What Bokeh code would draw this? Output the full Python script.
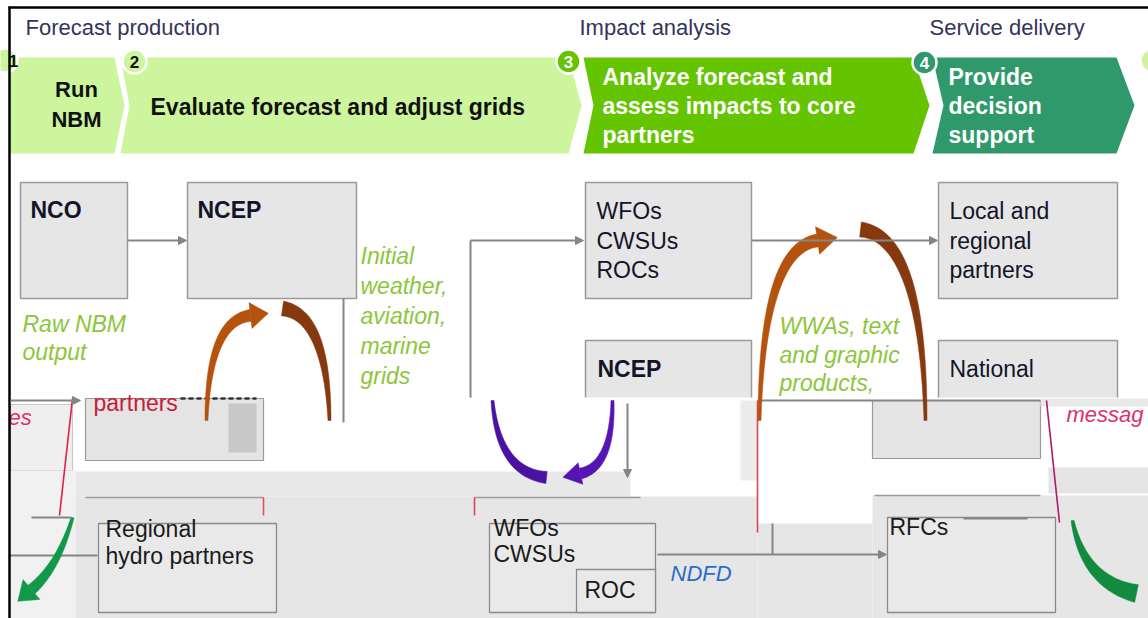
import numpy as np
from bokeh.plotting import figure
from bokeh.models import Range1d, Arrow, NormalHead
from bokeh.core.properties import value
from bokeh.embed import file_html
from bokeh.resources import INLINE

FONT = "Liberation Sans"

# ---------------- phase headers ----------------
phase_titles = ["Forecast production", "Impact analysis", "Service delivery"]
phase_x = [25, 579, 929]
phase_y = [27, 27, 27]

# ---------------- chevrons ----------------
chev_left = [8, 120, 583, 932]
chev_right = [114, 568, 913, 1116]
chev_notch = [0, 9, 10, 11]
chev_point = [10, 13, 16, 18]
chev_colors = ["#cdf59e", "#cdf59e", "#64c400", "#2f996b"]
chev_top, chev_bottom = 57, 153

run_text = ["Run", "NBM"]
run_tx = [76, 76]
run_ty = [89, 119]

chev_text = ["Evaluate forecast and adjust grids",
             "Analyze forecast and", "assess impacts to core", "partners",
             "Provide", "decision", "support"]
chev_tx = [150, 602, 602, 602, 948, 948, 948]
chev_ty = [106, 76, 105, 134, 76, 105, 134]
chev_tc = ["#111111"] + ["#ffffff"] * 6

step_num = ["1", "2", "3", "4"]
step_x = [5, 134, 568, 924]
step_y = [60, 61, 61, 62]
step_tx = [13, 134, 568, 924]
step_fill = ["#cdf59e", "#cdf59e", "#64c400", "#2f996b"]
step_tc = ["#111111", "#111111", "#ffffff", "#ffffff"]

# ---------------- boxes (upper, clean part) ----------------
box_l = [20, 187, 585, 938, 585, 938]
box_t = [182, 182, 182, 182, 340, 340]
box_r = [127, 356, 751, 1117, 751, 1117]
box_b = [298, 298, 298, 298, 410, 410]

box_text = ["NCO", "NCEP", "WFOs", "CWSUs", "ROCs", "Local and", "regional",
            "partners", "NCEP", "National"]
box_tx = [30, 197, 596, 596, 596, 949, 949, 949, 597, 949]
box_ty = [209, 209, 210, 240, 269, 210, 240, 269, 368, 368]
box_ts = ["bold", "bold", "normal", "normal", "normal", "normal", "normal",
          "normal", "bold", "normal"]

green_text = ["Raw NBM", "output", "Initial", "weather,", "aviation,", "marine",
              "grids", "WWAs, text", "and graphic", "products,"]
green_tx = [22, 22, 360, 360, 360, 360, 360, 779, 779, 779]
green_ty = [323, 351, 255, 285, 315, 345, 375, 325, 354, 382]

# straight connectors with arrow heads
arr_x0 = [127, 470, 751, 10, 627, 657]
arr_y0 = [240, 240, 240, 400, 403, 554]
arr_x1 = [186, 583, 937, 80, 627, 886]
arr_y1 = [240, 240, 240, 400, 477, 554]

# plain connector lines
ln_x0 = [343, 470, 8, 772, 757, 963, 31]
ln_y0 = [298, 240, 555, 523, 400, 518, 517]
ln_x1 = [343, 470, 97, 772, 1040, 1027, 70]
ln_y1 = [422, 397, 555, 554, 400, 518, 517]

# thin coloured glitch lines
cl_x0 = [72, 1046, 757, 263, 474]
cl_y0 = [398, 400, 400, 497, 497]
cl_x1 = [59, 1059, 757, 263, 474]
cl_y1 = [515, 522, 532, 515, 515]
cl_col = ["#e0204a", "#b0186a", "#d84858", "#e05060", "#d84858"]

# ---------------- lower (distorted) part ----------------
patch_l = [8, 10, 85, 228, 75, 10, 75, 757, 872, 872, 1048, 740, 1040]
patch_t = [397, 404, 398, 403, 471, 470, 496, 523, 495, 400, 467, 400, 398]
patch_r = [1148, 72, 263, 256, 630, 75, 757, 872, 1148, 1040, 1148, 757, 1148]
patch_b = [618, 470, 460, 452, 496, 618, 618, 618, 618, 458, 493, 480, 406]
patch_c = ["#ffffff", "#efefef", "#e4e4e4", "#c8c8c8", "#e8e8e8", "#f1f1f1",
           "#e6e6e6", "#e6e6e6", "#e6e6e6", "#e4e4e4", "#e4e4e4", "#ececec",
           "#e9e9e9"]
patch_line = [None, "#c8c8c8", "#9a9a9a", None, None, None, None, None, None,
              "#9a9a9a", None, None, None]

low_l = [98, 489, 576, 887]
low_t = [523, 523, 569, 517]
low_r = [276, 655, 655, 1055]
low_b = [612, 612, 612, 612]

edge_x0 = [85, 474, 874]
edge_x1 = [263, 640, 1040]
edge_y = [497, 497, 495]

low_text = ["Regional", "hydro partners", "WFOs", "CWSUs", "ROC", "RFCs"]
low_tx = [105, 105, 493, 493, 584, 889]
low_ty = [528, 555, 527, 553, 589, 526]

pink_text = ["es", "messag"]
pink_tx = [8, 1066]
pink_ty = [417, 414]

# ---------------- curved thick arrows ----------------
# (start, control, end, start width, end width, head length, head width, colour)
curves = [
    ((206, 420), (208, 320), (250, 315), 3, 12, 18, 26, "#b4520e"),
    ((329, 420), (326, 314), (282, 308), 3, 15, 0, 0, "#86390f"),
    ((759, 420), (762, 248), (817, 240), 3, 13, 20, 28, "#b4520e"),
    ((925, 420), (922, 236), (860, 229), 3, 15, 0, 0, "#86390f"),
    ((492, 400), (498, 472), (546, 477), 3, 12, 0, 0, "#4a12a0"),
    ((612, 400), (612, 466), (580, 473), 3, 11, 18, 22, "#5614b4"),
    ((72, 517), (58, 566), (31, 589), 3, 11, 18, 26, "#12984a"),
    ((1072, 520), (1084, 582), (1136, 593), 3, 18, 0, 0, "#128a40"),
]


def tapered(p0, p1, p2, w0, w1, hl, hw, n=40):
    p0, p1, p2 = np.array(p0, float), np.array(p1, float), np.array(p2, float)
    t = np.linspace(0, 1, n)[:, None]
    pts = (1 - t) ** 2 * p0 + 2 * (1 - t) * t * p1 + t ** 2 * p2
    d = 2 * (1 - t) * (p1 - p0) + 2 * t * (p2 - p1)
    d = d / np.linalg.norm(d, axis=1)[:, None]
    nrm = np.column_stack([-d[:, 1], d[:, 0]])
    w = (w0 + (w1 - w0) * t) / 2
    a = pts + nrm * w
    b = pts - nrm * w
    poly = np.vstack([a, b[::-1]])
    head = None
    if hl > 0:
        e, de, ne = pts[-1], d[-1], nrm[-1]
        tip = e + de * hl
        head = np.vstack([e + ne * hw / 2, tip, e - ne * hw / 2])
    return poly, head


p = figure(width=1148, height=618, output_backend="svg", toolbar_location=None,
           x_range=Range1d(0, 1148), y_range=Range1d(618, 0),
           x_axis_location=None, y_axis_location=None, min_border=0,
           outline_line_color=None, background_fill_color="white")
p.xgrid.visible = False
p.ygrid.visible = False

# chevrons
cxs, cys = [], []
for l, r, nt, pt in zip(chev_left, chev_right, chev_notch, chev_point):
    cxs.append([l, r, r + pt, r, l, l + nt])
    cys.append([chev_top, chev_top, (chev_top + chev_bottom) / 2, chev_bottom,
                chev_bottom, (chev_top + chev_bottom) / 2])
p.patches(cxs, cys, fill_color=chev_colors, line_color=None)

# fifth step marker peeking in at the right edge
p.circle([1152], [60], radius=12, fill_color="#cdf59e", line_color="white",
         line_width=2.5)

p.circle(step_x, step_y, radius=12, fill_color=step_fill, line_color="white",
         line_width=2.5)
p.text(step_tx, step_y, text=step_num, text_color=step_tc, text_font=value(FONT),
       text_font_style="bold", text_font_size="17px", text_align="center",
       text_baseline="middle")

p.text(phase_x, phase_y, text=phase_titles, text_color="#34345a",
       text_font=value(FONT), text_font_size="22px", text_baseline="middle")

p.text(run_tx, run_ty, text=run_text, text_color="#111111",
       text_font=value(FONT), text_font_style="bold", text_font_size="22px",
       text_align="center", text_baseline="middle")
p.text(chev_tx, chev_ty, text=chev_text, text_color=chev_tc,
       text_font=value(FONT), text_font_style="bold", text_font_size="23px",
       text_baseline="middle")

# upper boxes
p.quad(left=box_l, right=box_r, top=box_t, bottom=box_b, fill_color="#e6e6e6",
       line_color="#9a9a9a", line_width=1.5)

# lower distorted region
for l, t, r, b, c, lc in zip(patch_l, patch_t, patch_r, patch_b, patch_c, patch_line):
    p.quad(left=[l], right=[r], top=[t], bottom=[b], fill_color=c,
           line_color=lc, line_width=1.2)
p.quad(left=low_l, right=low_r, top=low_t, bottom=low_b, fill_color="#e9e9e9",
       line_color="#8a8a8a", line_width=1.3)
p.segment(x0=edge_x0, y0=edge_y, x1=edge_x1, y1=edge_y, line_color="#9a9a9a",
          line_width=1.5)

# connectors
p.segment(x0=ln_x0, y0=ln_y0, x1=ln_x1, y1=ln_y1, line_color="#858585",
          line_width=2)
p.segment(x0=cl_x0, y0=cl_y0, x1=cl_x1, y1=cl_y1, line_color=cl_col,
          line_width=1.6)
p.segment(x0=[180], y0=[398], x1=[256], y1=[398], line_color="#333333",
          line_width=2.5, line_dash="5 3")
for x0, y0, x1, y1 in zip(arr_x0, arr_y0, arr_x1, arr_y1):
    p.add_layout(Arrow(x_start=x0, y_start=y0, x_end=x1, y_end=y1,
                       line_color="#858585", line_width=2,
                       end=NormalHead(size=8, fill_color="#858585",
                                      line_color="#858585")))

# curved arrows
bxs, bys, bc, hxs, hys, hc = [], [], [], [], [], []
for p0, p1, p2, w0, w1, hl, hw, col in curves:
    poly, head = tapered(p0, p1, p2, w0, w1, hl, hw)
    bxs.append(list(poly[:, 0])); bys.append(list(poly[:, 1])); bc.append(col)
    if head is not None:
        hxs.append(list(head[:, 0])); hys.append(list(head[:, 1])); hc.append(col)
p.patches(bxs, bys, fill_color=bc, line_color=bc, line_width=0.5)
p.patches(hxs, hys, fill_color=hc, line_color=hc, line_width=0.5)

# texts
p.text(box_tx, box_ty, text=box_text, text_color="#141428",
       text_font=value(FONT), text_font_size="23px",
       text_font_style=box_ts, text_baseline="middle")
p.text(green_tx, green_ty, text=green_text, text_color="#8cc63a",
       text_font=value(FONT), text_font_size="23px", text_font_style="italic",
       text_baseline="middle")
p.text(low_tx, low_ty, text=low_text, text_color="#1a1a1a",
       text_font=value(FONT), text_font_size="23px", text_baseline="middle")
p.text([93], [402], text=["partners"], text_color="#c41e3a",
       text_font=value(FONT), text_font_size="23px", text_baseline="middle")
p.text(pink_tx, pink_ty, text=pink_text, text_color="#e0306c",
       text_font=value(FONT), text_font_size="22px", text_font_style="italic",
       text_baseline="middle")
p.text([670], [573], text=["NDFD"], text_color="#2a6cc8",
       text_font=value(FONT), text_font_size="22px", text_font_style="italic",
       text_baseline="middle")

# black frame (top and left edges)
p.segment(x0=[8, 9], y0=[7, 6], x1=[1148, 9], y1=[7, 618], line_color="black",
          line_width=2.5)

open("out.html", "w").write(file_html(p, INLINE))
